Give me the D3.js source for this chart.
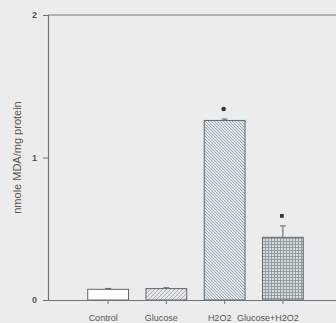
<!DOCTYPE html>
<html>
<head>
<meta charset="utf-8">
<script src="https://cdn.jsdelivr.net/npm/d3@7"></script>
<style>
  body { margin: 0; background: #ececef; }
  svg { display: block; font-family: "Liberation Sans", Arial, sans-serif; }
  .tick text { fill: #555; }
</style>
</head>
<body>
<svg id="chart" width="336" height="323"></svg>
<script>
var categories = ['Control', 'Glucose', 'H2O2', 'Glucose+H2O2'];
var means = [0.075, 0.08, 1.26, 0.44];
var errors = [0.006, 0.006, 0.01, 0.08];
var markers = [null, null, 'circle', 'square'];
var fills = ['white', 'url(#diagUp)', 'url(#diagDown)', 'url(#cross)'];
var yTicks = [0, 1, 2];

var w = 336, h = 323;
var margin = {top: 15, right: 0, bottom: 23, left: 48};

var svg = d3.select('#chart');

// hatch patterns
var defs = svg.append('defs');
function hatch(id, size, bg, lines) {
  var p = defs.append('pattern')
    .attr('id', id)
    .attr('patternUnits', 'userSpaceOnUse')
    .attr('width', size).attr('height', size);
  p.append('rect').attr('width', size).attr('height', size).attr('fill', bg);
  lines.forEach(function(l) {
    p.append('path').attr('d', l.d)
      .attr('stroke', l.c).attr('stroke-width', l.w).attr('fill', 'none');
  });
}
hatch('diagUp', 4, '#e4e8eb', [{d: 'M0,4 L4,0 M-1,1 L1,-1 M3,5 L5,3', c: '#9aa3aa', w: 0.8}]);
hatch('diagDown', 3, '#dfe4e8', [{d: 'M0,0 L3,3 M-1,2 L1,4 M2,-1 L4,1', c: '#97a2ab', w: 0.85}]);
hatch('cross', 3, '#d6dbde', [{d: 'M0,1.5 L3,1.5 M1.5,0 L1.5,3', c: '#8e979d', w: 0.9}]);

var y = d3.scaleLinear().domain([0, 2]).range([h - margin.bottom, margin.top]);
var x = d3.scaleBand().domain(categories).range([79, 312]).paddingInner(0.3).paddingOuter(0.15);

var axisColor = '#707478';

// frame top line
svg.append('line')
  .attr('x1', margin.left).attr('x2', w)
  .attr('y1', y(2)).attr('y2', y(2))
  .attr('stroke', axisColor).attr('stroke-width', 1.2);

// y axis
var yAxis = svg.append('g')
  .attr('transform', 'translate(' + margin.left + ',0)')
  .call(d3.axisLeft(y).tickValues(yTicks).tickFormat(d3.format('d')).tickSize(5).tickPadding(6));
yAxis.select('.domain').attr('stroke', axisColor).attr('stroke-width', 1.2);
yAxis.selectAll('.tick line').attr('stroke', axisColor);
yAxis.selectAll('.tick text').attr('font-size', 9).attr('font-weight', 'bold').attr('fill', '#666');

// bars
svg.selectAll('.bar')
  .data(categories)
  .enter().append('rect')
  .attr('class', 'bar')
  .attr('x', function(d) { return x(d); })
  .attr('width', x.bandwidth())
  .attr('y', function(d, i) { return y(means[i]); })
  .attr('height', function(d, i) { return y(0) - y(means[i]); })
  .attr('fill', function(d, i) { return fills[i]; })
  .attr('stroke', '#60666b')
  .attr('stroke-width', 1);

// error bars (upper only)
var eb = svg.selectAll('.err')
  .data(categories)
  .enter().append('g')
  .attr('class', 'err')
  .attr('transform', function(d) { return 'translate(' + (x(d) + x.bandwidth() / 2) + ',0)'; });
eb.append('line')
  .attr('y1', function(d, i) { return y(means[i]); })
  .attr('y2', function(d, i) { return y(means[i] + errors[i]); })
  .attr('stroke', '#60666b');
eb.append('line')
  .attr('x1', -3).attr('x2', 3)
  .attr('y1', function(d, i) { return y(means[i] + errors[i]); })
  .attr('y2', function(d, i) { return y(means[i] + errors[i]); })
  .attr('stroke', '#60666b');

// significance markers
svg.selectAll('.sig')
  .data(categories.filter(function(d, i) { return markers[i]; }))
  .enter().append('path')
  .attr('class', 'sig')
  .attr('d', function(d) {
    var i = categories.indexOf(d);
    var t = markers[i] === 'circle' ? d3.symbolCircle : d3.symbolSquare;
    return d3.symbol().type(t).size(markers[i] === 'circle' ? 16 : 14)();
  })
  .attr('transform', function(d) {
    var i = categories.indexOf(d);
    return 'translate(' + (x(d) + x.bandwidth() / 2 - 1) + ',' + (y(means[i] + errors[i]) - 10) + ')';
  })
  .attr('fill', '#333');

// x axis
var xAxis = svg.append('g')
  .attr('transform', 'translate(0,' + y(0) + ')')
  .call(d3.axisBottom(x).tickSize(4).tickPadding(11).tickSizeOuter(0));
xAxis.select('.domain').attr('d', 'M' + margin.left + ',0.5H' + w).attr('stroke', axisColor).attr('stroke-width', 1.2);
xAxis.selectAll('.tick line').attr('stroke', axisColor);
xAxis.selectAll('.tick text')
  .attr('font-size', 9)
  .attr('fill', '#555')
  .attr('dx', function(d, i) { return i === categories.length - 1 ? -15 : -5; });

// y label
svg.append('text')
  .attr('transform', 'translate(21,' + y(1) + ') rotate(-90)')
  .attr('text-anchor', 'middle')
  .attr('font-size', 11)
  .attr('fill', '#555')
  .text('nmole MDA/mg protein');
</script>
</body>
</html>
